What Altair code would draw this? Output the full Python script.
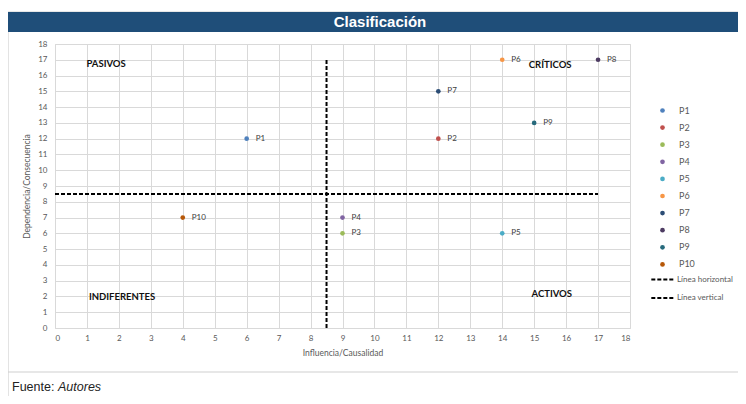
import altair as alt
import pandas as pd

# ---- data ----
names = ["P1", "P2", "P3", "P4", "P5", "P6", "P7", "P8", "P9", "P10"]
influencia = [6, 12, 9, 9, 14, 14, 12, 17, 15, 4]
dependencia = [12, 12, 6, 7, 6, 17, 15, 17, 13, 7]
colors = ["#4F81BD", "#C0504D", "#9BBB59", "#8064A2", "#4BACC6",
          "#F79646", "#2C4D75", "#4D3B62", "#276A7C", "#B65708"]

quad_labels = ["PASIVOS", "CRÍTICOS", "INDIFERENTES", "ACTIVOS"]
quad_x = [1.6, 15.5, 2.1, 15.55]
quad_y = [16.75, 16.7, 1.95, 2.15]

line_names = ["Línea horizontal", "Línea horizontal", "Línea vertical", "Línea vertical"]
line_x = [0, 17, 8.5, 8.5]
line_y = [8.5, 8.5, 0, 17]
line_order = [0, 1, 0, 1]

ticks = list(range(0, 19))

pts = pd.DataFrame({"name": names, "x": influencia, "y": dependencia})
quads = pd.DataFrame({"label": quad_labels, "x": quad_x, "y": quad_y})
lines = pd.DataFrame({"name": line_names, "x": line_x, "y": line_y, "o": line_order})

W, H = 575, 284
FONT = "Lato"

xscale = alt.Scale(domain=[0, 18], nice=False)
yscale = alt.Scale(domain=[0, 18], nice=False)
xaxis = alt.Axis(values=ticks, title="Influencia/Causalidad", grid=True, ticks=False,
                 domain=False, labelPadding=6, titlePadding=6)
yaxis = alt.Axis(values=ticks, title="Dependencia/Consecuencia", grid=True, ticks=False,
                 domain=False, labelPadding=8, titlePadding=6)
X = alt.X("x:Q", scale=xscale, axis=xaxis)
Y = alt.Y("y:Q", scale=yscale, axis=yaxis)

base_pts = alt.Chart(pts)

points = base_pts.mark_circle(size=22, opacity=1).encode(
    x=X, y=Y,
    color=alt.Color("name:N", scale=alt.Scale(domain=names, range=colors), sort=names,
                    legend=alt.Legend(title=None, orient="none", legendX=603, legendY=62,
                                      symbolType="circle", symbolSize=22, rowPadding=7.1,
                                      labelFontSize=9, labelColor="#595959", labelFont=FONT,
                                      labelOffset=12)),
)

point_labels = base_pts.mark_text(align="left", dx=9, fontSize=8, color="#404040", font=FONT).encode(
    x=X, y=Y, text="name:N"
)

quad_text = alt.Chart(quads).mark_text(fontSize=9.5, fontWeight="bold", color="#111111", font=FONT).encode(
    x=X, y=Y, text="label:N"
)

ref_lines = alt.Chart(lines).mark_line(color="black", strokeWidth=2).encode(
    x=X, y=Y, order="o:Q",
    strokeDash=alt.StrokeDash("name:N",
                              scale=alt.Scale(domain=["Línea horizontal", "Línea vertical"],
                                              range=[[4, 2], [4, 2]]),
                              legend=alt.Legend(title=None, orient="none", legendX=595, legendY=223,
                                                symbolType="stroke", symbolStrokeColor="black",
                                                symbolStrokeWidth=2, symbolSize=500, rowPadding=1.5,
                                                labelFontSize=8, labelColor="#595959",
                                                labelFont=FONT, labelOffset=2)),
)

# decorations: title bar, frame, footer
deco = pd.DataFrame({"k": [0]})
title_bar = alt.Chart(deco).mark_rect(color="#1F4E79").encode(
    x=alt.value(-47), x2=alt.value(691), y=alt.value(-32), y2=alt.value(-12)
)
title_txt = alt.Chart(deco).mark_text(text="Clasificación", color="white", fontSize=15,
                                      fontWeight="bold", font="Liberation Sans Narrow, Liberation Sans",
                                      baseline="middle").encode(
    x=alt.value(325), y=alt.value(-22)
)
frame = alt.Chart(deco).mark_rect(fill=None, stroke="#D0D0D0", strokeWidth=1.2).encode(
    x=alt.value(-47), x2=alt.value(690), y=alt.value(-32), y2=alt.value(328)
)
left_edge = alt.Chart(deco).mark_rule(stroke="#D0D0D0", strokeWidth=1.2).encode(
    x=alt.value(-47), y=alt.value(328), y2=alt.value(352)
)
foot1 = alt.Chart(deco).mark_text(text="Fuente:", align="left", baseline="alphabetic", fontSize=12.5,
                                  font="Liberation Sans", color="#222222").encode(
    x=alt.value(-43), y=alt.value(347)
)
foot2 = alt.Chart(deco).mark_text(text="Autores", align="left", baseline="alphabetic", fontSize=12.5,
                                  fontStyle="italic", font="Liberation Sans", color="#222222").encode(
    x=alt.value(3), y=alt.value(347)
)

chart = alt.layer(
    frame, left_edge, title_bar, title_txt, points, ref_lines, point_labels, quad_text, foot1, foot2
).properties(
    width=W, height=H, autosize=alt.AutoSizeParams(type="none"),
    padding={"left": 47, "top": 36, "right": 108, "bottom": 68},
    background="white",
).resolve_scale(color="independent", strokeDash="independent").configure_view(
    stroke="#D9D9D9"
).configure_axis(
    gridColor="#D9D9D9", labelColor="#595959", labelFontSize=8, labelFont=FONT,
    titleColor="#595959", titleFontSize=8.5, titleFont=FONT, titleFontWeight="normal"
)

chart.save("out.html", embed_options={"renderer": "svg", "actions": False})
